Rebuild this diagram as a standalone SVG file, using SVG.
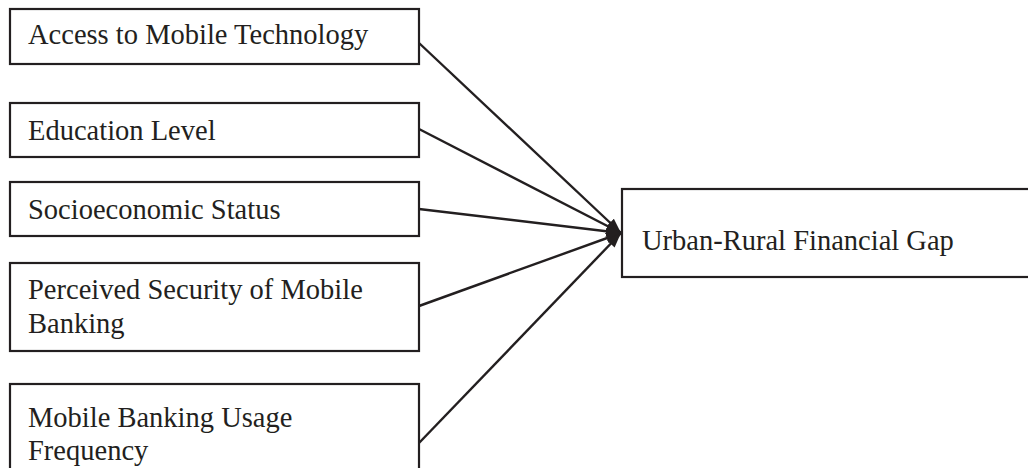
<svg xmlns="http://www.w3.org/2000/svg" width="1028" height="468" viewBox="0 0 1028 468">
  <style>
    .box { fill: #ffffff; stroke: #231f20; stroke-width: 2.2; }
    .lbl { font-family: "Liberation Serif", "Times New Roman", serif; font-size: 28.5px; fill: #231f20; }
    .edge { stroke: #231f20; stroke-width: 2.4; fill: none; marker-end: url(#arrow); }
  </style>
  <defs>
    <!-- filled triangular head; tip sits on the line end -->
    <marker id="arrow" viewBox="0 0 15 11" refX="15" refY="5.5" markerWidth="15" markerHeight="11" markerUnits="userSpaceOnUse" orient="auto">
      <path d="M0,0 L15,5.5 L0,11 z" fill="#231f20"/>
    </marker>
  </defs>
  <rect width="1028" height="468" fill="#ffffff"/>

  <g id="connectors">
    <line class="edge" x1="419" y1="43" x2="621" y2="233"/>
    <line class="edge" x1="419" y1="129" x2="621" y2="233"/>
    <line class="edge" x1="419" y1="209" x2="621" y2="233"/>
    <line class="edge" x1="419" y1="306" x2="621" y2="233"/>
    <line class="edge" x1="419" y1="443" x2="621" y2="233"/>
  </g>

  <g id="access">
    <rect class="box" x="10" y="9" width="409" height="55"/>
    <text class="lbl" x="28" y="44">Access to Mobile Technology</text>
  </g>
  <g id="education">
    <rect class="box" x="10" y="103" width="409" height="54"/>
    <text class="lbl" x="28" y="140">Education Level</text>
  </g>
  <g id="socioeconomic">
    <rect class="box" x="10" y="182" width="409" height="54"/>
    <text class="lbl" x="28" y="219">Socioeconomic Status</text>
  </g>
  <g id="security">
    <rect class="box" x="10" y="263" width="409" height="88"/>
    <text class="lbl" x="28" y="299">Perceived Security of Mobile</text>
    <text class="lbl" x="28" y="333">Banking</text>
  </g>
  <g id="usage">
    <rect class="box" x="10" y="384" width="409" height="100"/>
    <text class="lbl" x="28" y="427">Mobile Banking Usage</text>
    <text class="lbl" x="28" y="460">Frequency</text>
  </g>
  <g id="gap">
    <rect class="box" x="622" y="189" width="420" height="88"/>
    <text class="lbl" x="642" y="250">Urban-Rural Financial Gap</text>
  </g>
</svg>
